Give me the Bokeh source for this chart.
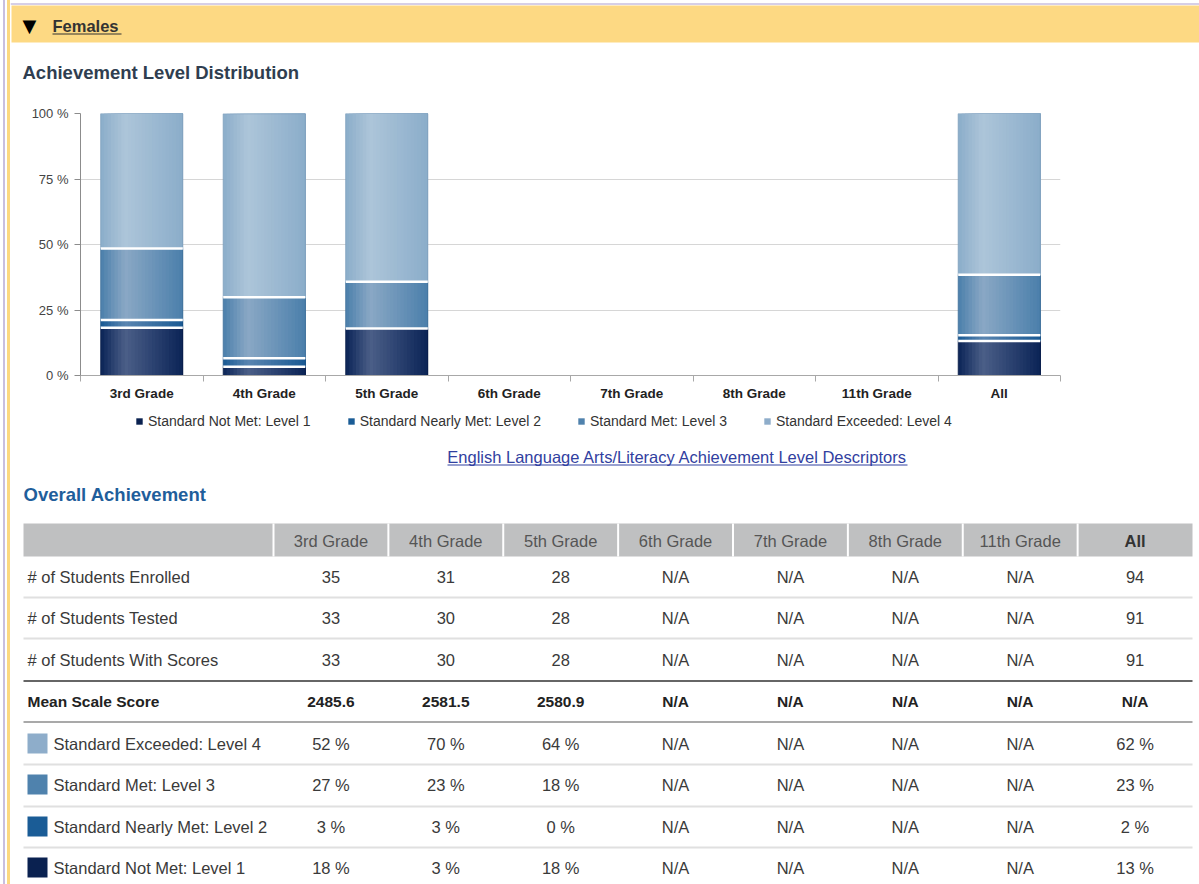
import numpy as np
from bokeh.plotting import figure
from bokeh.models import (ColumnDataSource, Range1d, FixedTicker, PrintfTickFormatter,
                          Legend, LegendItem, Spacer)
from bokeh.layouts import column, row
from bokeh.transform import dodge
from bokeh.core.properties import value
from bokeh.embed import file_html
from bokeh.resources import INLINE

# ---------------- data ----------------
grades = ["3rd Grade", "4th Grade", "5th Grade", "6th Grade", "7th Grade",
          "8th Grade", "11th Grade", "All"]
level_names = ["Standard Not Met: Level 1", "Standard Nearly Met: Level 2",
               "Standard Met: Level 3", "Standard Exceeded: Level 4"]
# chart values (percent of students with scores)
level1_pct = [18.2, 3.3, 17.9, 0, 0, 0, 0, 13.2]
level2_pct = [3.0, 3.3, 0.0, 0, 0, 0, 0, 2.2]
level3_pct = [27.3, 23.3, 17.9, 0, 0, 0, 0, 23.1]
level4_pct = [51.5, 70.0, 64.3, 0, 0, 0, 0, 61.5]
y_ticks = [0, 25, 50, 75, 100]

# table
enrolled = ["35", "31", "28", "N/A", "N/A", "N/A", "N/A", "94"]
tested = ["33", "30", "28", "N/A", "N/A", "N/A", "N/A", "91"]
with_scores = ["33", "30", "28", "N/A", "N/A", "N/A", "N/A", "91"]
mean_scale = ["2485.6", "2581.5", "2580.9", "N/A", "N/A", "N/A", "N/A", "N/A"]
exceeded_txt = ["52 %", "70 %", "64 %", "N/A", "N/A", "N/A", "N/A", "62 %"]
met_txt = ["27 %", "23 %", "18 %", "N/A", "N/A", "N/A", "N/A", "23 %"]
nearly_txt = ["3 %", "3 %", "0 %", "N/A", "N/A", "N/A", "N/A", "2 %"]
notmet_txt = ["18 %", "3 %", "18 %", "N/A", "N/A", "N/A", "N/A", "13 %"]

# ---------------- styles ----------------
FONT = "Liberation Sans"
X0, X1 = 10, 1199          # page x covered by the figures
W = X1 - X0
LEVEL_BASE = ["#0b2457", "#1a5a94", "#4b7fab", "#8badca"]
LEVEL_HI = ["#4b5f88", "#5a85b0", "#8aa8c5", "#adc5d9"]
LEVEL_EDGE = ["#081c46", "#154d80", "#3f6f99", "#7d9dbb"]
LEVEL_SWATCH = ["#0a2150", "#1a5c96", "#4f82ad", "#8eadca"]


def hex2rgb(h):
    h = h.lstrip("#")
    return [int(h[i:i + 2], 16) for i in (0, 2, 4)]


def mix(c1, c2, t):
    a, b = hex2rgb(c1), hex2rgb(c2)
    return "#%02x%02x%02x" % tuple(int(round(a[i] + (b[i] - a[i]) * t)) for i in range(3))


def grad(base, hi, t):
    if t < 0.3:
        return mix(base, hi, t / 0.3)
    return mix(hi, base, (t - 0.3) / 0.7)


def no_align(f):
    if "frame_align" in f.properties():
        f.frame_align = False
    return f


def blank(y0, y1):
    f = figure(width=W, height=y1 - y0, x_range=Range1d(X0, X1), y_range=Range1d(y1, y0),
               output_backend="svg", toolbar_location=None, min_border=0,
               x_axis_location=None, y_axis_location=None)
    f.grid.visible = False
    f.outline_line_color = None
    return no_align(f)


def txt(f, x, y, t, size, color="#333333", bold=False, align="left", font=FONT):
    f.text(x=x, y=y, text=t, text_font=value(font), text_font_size=value(size),
           text_color=color, text_font_style="bold" if bold else "normal",
           text_align=align, text_baseline="middle")


# ---------------- header ----------------
head = blank(0, 95)
head.segment(x0=[X0], y0=[3.5], x1=[X1], y1=[3.5], line_color="#c9bfdf", line_width=1.5)
head.quad(left=[11], right=[X1], top=[5], bottom=[42], fill_color="#fdd983", line_color=None)
txt(head, [22], [25], ["▼"], "18px", color="#000000", font="DejaVu Sans")
txt(head, [52], [25], ["Females"], "16.5px", color="#333333", bold=True)
head.segment(x0=[52], y0=[33.5], x1=[121], y1=[33.5], line_color="#333333", line_width=1.2)
txt(head, [22], [72], ["Achievement Level Distribution"], "18.5px", color="#2f3e50", bold=True)

# ---------------- chart ----------------
n = len(grades)
xc = np.arange(n) + 0.5
L = np.array([level1_pct, level2_pct, level3_pct, level4_pct], dtype=float)
tops = np.cumsum(L, axis=0)
bots = tops - L
data = dict(x=xc)
for k in range(4):
    data[f"b{k}"] = bots[k]
    data[f"t{k}"] = tops[k]
src = ColumnDataSource(data)

CH_TOP, CH_BOT = 95, 408
p = figure(width=W, height=CH_BOT - CH_TOP, x_range=Range1d(0, n), y_range=Range1d(0, 100),
           output_backend="svg", toolbar_location=None,
           min_border_left=80 - X0, min_border_right=X1 - 1060,
           min_border_top=113 - CH_TOP, min_border_bottom=CH_BOT - 375)
no_align(p)
p.outline_line_color = None
p.xgrid.visible = False
p.ygrid.grid_line_color = "#d6d6d6"
p.ygrid.ticker = FixedTicker(ticks=y_ticks[1:])

p.yaxis.ticker = FixedTicker(ticks=y_ticks)
p.yaxis.formatter = PrintfTickFormatter(format="%d %%")
p.yaxis.axis_line_color = "#8c8c8c"
p.yaxis.major_tick_line_color = "#8c8c8c"
p.yaxis.major_tick_out = 6
p.yaxis.major_tick_in = 0
p.yaxis.minor_tick_line_color = None
p.yaxis.major_label_text_font = FONT
p.yaxis.major_label_text_font_size = "13px"
p.yaxis.major_label_text_color = "#444444"
p.yaxis.major_label_standoff = 6

boundaries = list(np.arange(n + 1).astype(float))
p.xaxis.ticker = FixedTicker(ticks=list(xc), minor_ticks=boundaries)
p.xaxis.major_label_overrides = {float(x): g for x, g in zip(xc, grades)}
p.xaxis.axis_line_color = "#a8a8a8"
p.xaxis.major_tick_line_color = None
p.xaxis.major_tick_out = 5
p.xaxis.minor_tick_line_color = "#a8a8a8"
p.xaxis.minor_tick_out = 6
p.xaxis.minor_tick_in = 0
p.xaxis.major_label_text_font = FONT
p.xaxis.major_label_text_font_size = "13.5px"
p.xaxis.major_label_text_font_style = "bold"
p.xaxis.major_label_text_color = "#222222"
p.xaxis.major_label_standoff = 4

BW = 0.67
NS = 24
for k in range(4):
    for i in range(NS):
        left = -BW / 2 + i * BW / NS
        w = BW / 2 - left
        off = left + w / 2
        col = grad(LEVEL_BASE[k], LEVEL_HI[k], (i + 0.5) / NS)
        p.vbar(x=dodge("x", off), width=w, bottom=f"b{k}", top=f"t{k}", source=src,
               fill_color=col, line_color=None)
    mask = L[k] > 0
    osrc = ColumnDataSource(dict(x=xc[mask], b=bots[k][mask], t=tops[k][mask]))
    p.vbar(x="x", width=BW, bottom="b", top="t", source=osrc, fill_color=None,
           line_color=LEVEL_EDGE[k], line_width=1, line_alpha=0.8)

for k in range(3):
    mask = L[k] > 0
    ssrc = ColumnDataSource(dict(x=xc[mask], y=tops[k][mask]))
    p.rect(x="x", y="y", width=BW, height=2.5, height_units="screen", source=ssrc,
           fill_color="white", line_color=None)

# ---------------- table (and chart legend) ----------------
TB_TOP, TB_BOT = CH_BOT, 884
tab = blank(TB_TOP, TB_BOT)

row_y = [576, 617, 659, 701, 743, 784, 826, 867]
rows = [("# of Students Enrolled", enrolled, None, False),
        ("# of Students Tested", tested, None, False),
        ("# of Students With Scores", with_scores, None, False),
        ("Mean Scale Score", mean_scale, None, True),
        (level_names[3], exceeded_txt, 3, False),
        (level_names[2], met_txt, 2, False),
        (level_names[1], nearly_txt, 1, False),
        (level_names[0], notmet_txt, 0, False)]

col_edges = [273 + i * (1192 - 273) / 8 for i in range(9)]
col_cent = [(col_edges[i] + col_edges[i + 1]) / 2 for i in range(8)]

tab.quad(left=[23], right=[1192], top=[523], bottom=[556], fill_color="#bfc0c1", line_color=None)
tab.segment(x0=col_edges[:-1], y0=[523] * 8, x1=col_edges[:-1], y1=[556] * 8,
            line_color="white", line_width=2)
txt(tab, col_cent[:-1], [540] * 7, grades[:-1], "16.5px", color="#555555", align="center")
txt(tab, col_cent[-1:], [540], grades[-1:], "16.5px", color="#333333", bold=True, align="center")

swatch_r = {}
for (label, vals, k, bold), y in zip(rows, row_y):
    if k is not None:
        swatch_r[k] = tab.quad(left=[27], right=[47], top=[y - 10], bottom=[y + 10],
                               fill_color=LEVEL_SWATCH[k], line_color=None)
        txt(tab, [53], [y], [label], "16.5px", color="#3a3a3a")
    else:
        txt(tab, [27], [y], [label], "15.5px" if bold else "16.5px",
            color="#222222" if bold else "#3a3a3a", bold=bold)
    txt(tab, col_cent, [y] * 8, vals, "15.5px" if bold else "16.5px",
        color="#222222" if bold else "#3a3a3a", bold=bold, align="center")

light_y = [597, 638, 764, 806, 847]
tab.segment(x0=[23] * len(light_y), y0=light_y, x1=[1192] * len(light_y), y1=light_y,
            line_color="#e0e0e0", line_width=2)
tab.segment(x0=[23], y0=[680.5], x1=[1192], y1=[680.5], line_color="#333333", line_width=1.6)
tab.segment(x0=[23], y0=[721.5], x1=[1192], y1=[721.5], line_color="#555555", line_width=1.2)

txt(tab, [677], [456], ["English Language Arts/Literacy Achievement Level Descriptors"], "16.5px",
    color="#3140a0", align="center")
tab.segment(x0=[447], y0=[464.5], x1=[907], y1=[464.5], line_color="#3140a0", line_width=1)
txt(tab, [23], [494], ["Overall Achievement"], "18.5px", color="#1f5e9b", bold=True)

# chart legend (sits just under the chart's category labels)
LG_H = 9
legend = Legend(items=[LegendItem(label=level_names[k], renderers=[swatch_r[k]]) for k in range(4)],
                orientation="horizontal",
                location=(135 - X0, TB_BOT - (424 - LG_H / 2) - LG_H),
                margin=0, padding=0, spacing=36, glyph_width=LG_H - 1, glyph_height=LG_H - 1,
                label_standoff=5, label_height=LG_H - 1, label_width=10,
                label_text_font=FONT, label_text_font_size="14px", label_text_color="#333333",
                background_fill_alpha=0, border_line_color=None)
tab.add_layout(legend)

strip = Spacer(width=X0, height=884, styles={
    "background": "linear-gradient(to right, #ffffff 0px, #ffffff 3px, #c9bfdf 3px, #c9bfdf 5px,"
                  " #ffffff 5px, #ffffff 7px, #fcd880 7px, #fcd880 10px)"})
layout = row(strip, column(head, p, tab, spacing=0), spacing=0)

open("out.html", "w").write(file_html(layout, INLINE))
